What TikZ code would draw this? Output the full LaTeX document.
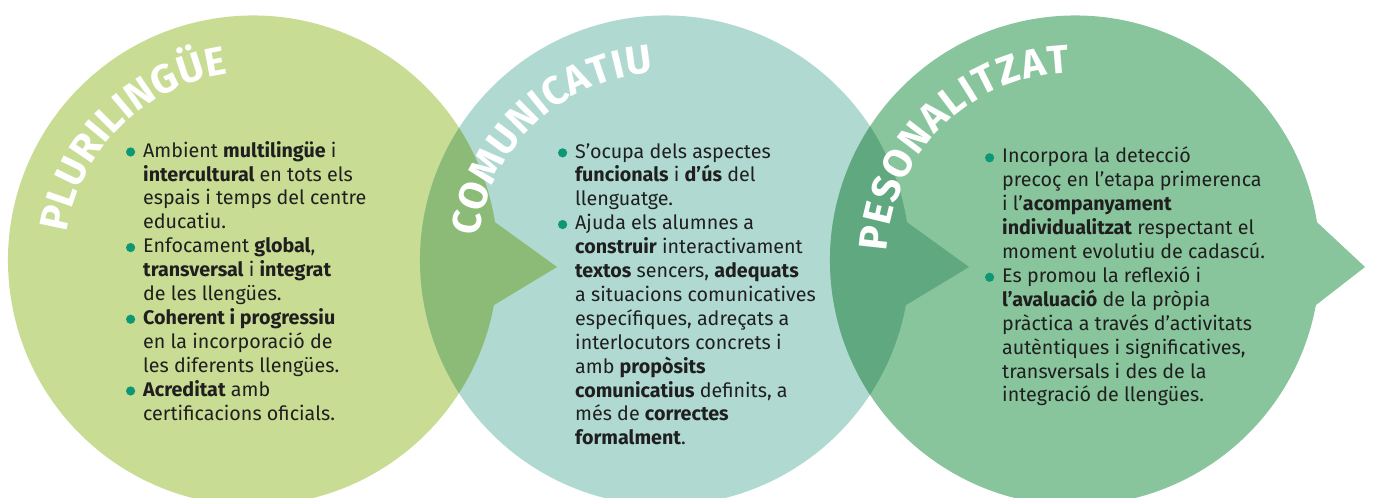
\documentclass[tikz,border=0pt]{standalone}
\usepackage{fontspec}
\setmainfont{Fira Sans}
\usepackage{xcolor}
\usetikzlibrary{calc}
\usetikzlibrary{decorations.text}

\definecolor{pluri-fill}{HTML}{C9DC93}
\definecolor{comu-fill}{HTML}{B0DAD1}
\definecolor{perso-fill}{HTML}{89C59C}
\definecolor{pluri-comu}{HTML}{8BBB77}
\definecolor{comu-perso}{HTML}{5FA880}
\definecolor{dot-green}{HTML}{0E9775}
\definecolor{ink}{HTML}{1F1F1F}

\newcommand{\headfont}{\fontsize{40}{40}\selectfont\bfseries\color{white}}
\newcommand{\bul}{\llap{\raisebox{0.6pt}{\tikz\fill[dot-green] (0,0) circle (4.6pt);}\hspace{8pt}}}
\newcommand{\bubble}[2]{($(#1)+(9:245)$) arc[start angle=9, end angle=349.5, radius=245] -- ($(#1)+(#2,-6.5)$) -- cycle}

\begin{document}
\begin{tikzpicture}[x=1pt, y=1pt,
    list-text/.style={anchor=north west, inner sep=0pt, align=left, text=ink, font=\fontsize{19.7}{23.9}\selectfont},
    title-arc/.style={decorate, decoration={text along path, text align={fit to path}, text={|\headfont|#1}}}
  ]
  \useasboundingbox (0,0) rectangle (1374,498);

  \coordinate (pluri) at (253,237.5);
  \coordinate (comu) at (665,237.5);
  \coordinate (perso) at (1075,237.5);

  \fill[pluri-fill] \bubble{pluri}{304};
  \fill[comu-fill] \bubble{comu}{304};
  \fill[perso-fill] \bubble{perso}{290};
  \begin{scope}
    \clip \bubble{pluri}{304};
    \fill[pluri-comu] \bubble{comu}{304};
  \end{scope}
  \begin{scope}
    \clip \bubble{comu}{304};
    \fill[comu-perso] \bubble{perso}{290};
  \end{scope}

  {\headfont
  \path[title-arc=PLURILINGÜE] ($(pluri)+(171.6:188)$) arc[start angle=171.6, end angle=97.6, radius=188];
  \path[title-arc=COMUNICATIU] ($(comu)+(172.8:188)$) arc[start angle=172.8, end angle=93.7, radius=188];
  \path[title-arc=PESONALITZAT] ($(perso)+(177.4:188)$) arc[start angle=177.4, end angle=91.5, radius=188];
  }

  \node[list-text] (pluri-list) at (143,357) {%
    \bul Ambient \textbf{multilingüe} i\\
    \textbf{intercultural} en tots els\\
    espais i temps del centre\\
    educatiu.\\
    \bul Enfocament \textbf{global},\\
    \textbf{transversal} i \textbf{integrat}\\
    de les llengües.\\
    \bul \textbf{Coherent i progressiu}\\
    en la incorporació de\\
    les diferents llengües.\\
    \bul \textbf{Acreditat} amb\\
    certificacions oficials.};

  \node[list-text] (comu-list) at (575,355) {%
    \bul S’ocupa dels aspectes\\
    \textbf{funcionals} i \textbf{d’ús} del\\
    llenguatge.\\
    \bul Ajuda els alumnes a\\
    \textbf{construir} interactivament\\
    \textbf{textos} sencers, \textbf{adequats}\\
    a situacions comunicatives\\
    específiques, adreçats a\\
    interlocutors concrets i\\
    amb \textbf{propòsits}\\
    \textbf{comunicatius} definits, a\\
    més de \textbf{correctes}\\
    \textbf{formalment}.};

  \node[list-text] (perso-list) at (1002,351) {%
    \bul Incorpora la detecció\\
    precoç en l’etapa primerenca\\
    i l’\textbf{acompanyament}\\
    \textbf{individualitzat} respectant el\\
    moment evolutiu de cadascú.\\
    \bul Es promou la reflexió i\\
    \textbf{l’avaluació} de la pròpia\\
    pràctica a través d’activitats\\
    autèntiques i significatives,\\
    transversals i des de la\\
    integració de llengües.};
\end{tikzpicture}
\end{document}
